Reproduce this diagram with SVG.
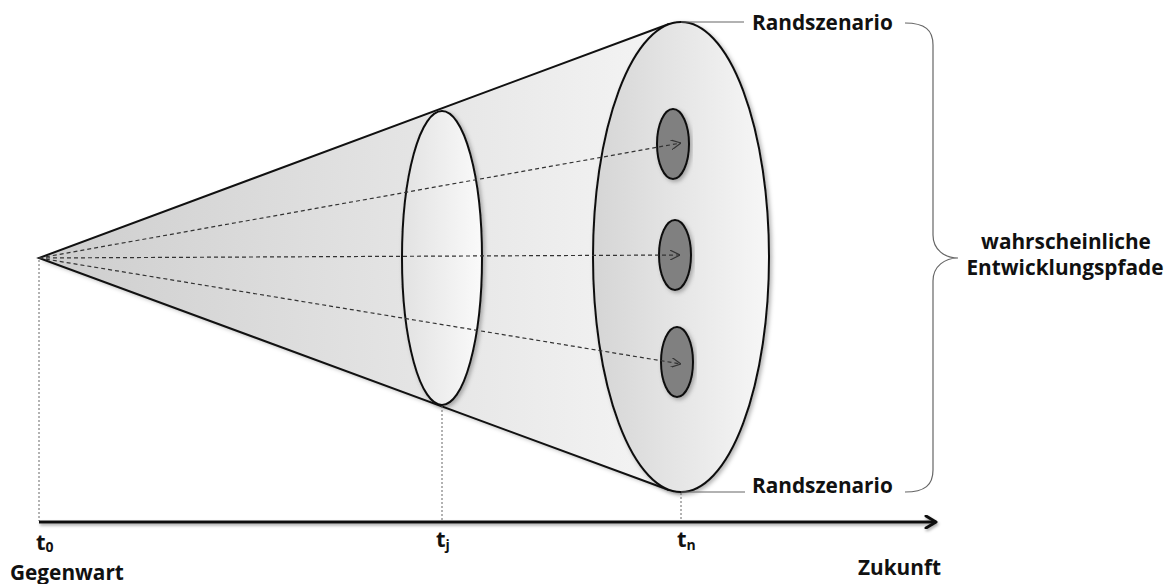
<svg xmlns="http://www.w3.org/2000/svg" width="1169" height="584" viewBox="0 0 1169 584">
<defs>
<style>
text{font-family:"Open Sans","Liberation Sans",sans-serif;font-weight:700;fill:#111}
.lbl{font-size:20.8px}
.t{font-size:22px}
.sub{font-size:14px}
.shape{stroke:#111;stroke-width:2}
.arrow{fill:none;stroke:#333;stroke-width:1.2;stroke-dasharray:4 3}
.drop{fill:none;stroke:#666;stroke-width:1;stroke-dasharray:2 2}
.lead{fill:none;stroke:#666;stroke-width:1.2}
</style>
<linearGradient id="gCone" gradientUnits="userSpaceOnUse" x1="39" y1="0" x2="681" y2="0">
<stop offset="0" stop-color="#cdcdcd"/><stop offset="1" stop-color="#f5f5f5"/>
</linearGradient>
<linearGradient id="gBig" x1="0" y1="0" x2="1" y2="0">
<stop offset="0" stop-color="#d5d5d5"/><stop offset="1" stop-color="#f7f7f7"/>
</linearGradient>
<linearGradient id="gMid" x1="0" y1="0" x2="1" y2="0">
<stop offset="0" stop-color="#e2e2e2"/><stop offset="1" stop-color="#fafafa"/>
</linearGradient>
<filter id="sh" x="-10%" y="-10%" width="120%" height="120%">
<feDropShadow dx="2" dy="2" stdDeviation="2" flood-opacity="0.3"/>
</filter>
<filter id="shAxis" filterUnits="userSpaceOnUse" x="20" y="500" width="940" height="45">
<feDropShadow dx="1" dy="2" stdDeviation="1.5" flood-opacity="0.35"/>
</filter>
<marker id="ah" viewBox="0 0 10 10" refX="10" refY="5" markerWidth="10" markerHeight="10" markerUnits="userSpaceOnUse" orient="auto">
<path d="M0 0 L10 5 L0 10" fill="none" stroke="#333" stroke-width="1.2"/>
</marker>
<marker id="axh" viewBox="0 0 14 14" refX="12" refY="7" markerWidth="14" markerHeight="14" markerUnits="userSpaceOnUse" orient="auto">
<path d="M2 1 L12 7 L2 13" fill="none" stroke="#111" stroke-width="3" stroke-linecap="round" stroke-linejoin="round"/>
</marker>
</defs>

<g id="cone">
<path d="M39 258 L669 24 L681 22 L681 492 L669 490 Z" fill="url(#gCone)" filter="url(#sh)"/>
<path d="M669 24 L39 258 L669 490" fill="none" stroke="#111" stroke-width="2" stroke-linejoin="miter"/>
</g>

<g id="ellipse-tj">
<ellipse cx="442" cy="258" rx="40" ry="147" fill="url(#gMid)" class="shape" filter="url(#sh)"/>
</g>

<g id="ellipse-tn">
<ellipse cx="681" cy="257" rx="88" ry="235" fill="url(#gBig)" class="shape" filter="url(#sh)"/>
</g>

<g id="path-1"><ellipse cx="673" cy="144" rx="16" ry="35" fill="#808080" class="shape" filter="url(#sh)"/></g>
<g id="path-2"><ellipse cx="675" cy="255" rx="16" ry="35" fill="#808080" class="shape" filter="url(#sh)"/></g>
<g id="path-3"><ellipse cx="677" cy="362" rx="16" ry="35" fill="#808080" class="shape" filter="url(#sh)"/></g>

<g id="connectors">
<line x1="39" y1="258" x2="681" y2="143" class="arrow" marker-end="url(#ah)"/>
<line x1="39" y1="258" x2="680" y2="255" class="arrow" marker-end="url(#ah)"/>
<line x1="39" y1="258" x2="681" y2="364" class="arrow" marker-end="url(#ah)"/>
<line x1="39" y1="260" x2="39" y2="521" class="drop"/>
<line x1="442" y1="406" x2="442" y2="521" class="drop"/>
<line x1="681" y1="493" x2="681" y2="521" class="drop"/>
<line x1="681" y1="22" x2="744" y2="22" class="lead"/>
<line x1="681" y1="492" x2="745" y2="492" class="lead"/>
<path d="M905 23 C925 23 933 30 933 45 L933 235 C933 250 945 258 958 258 C945 258 933 266 933 281 L933 470 C933 485 925 492 905 492" class="lead" stroke="#777" stroke-width="1.5"/>
</g>

<g id="axis" filter="url(#shAxis)">
<line x1="39" y1="522" x2="936" y2="522" stroke="#111" stroke-width="3" marker-end="url(#axh)"/>
</g>

<g id="labels">
<text class="lbl" x="752" y="30">Randszenario</text>
<text class="lbl" x="752" y="493">Randszenario</text>
<text class="lbl" x="1066" y="249" text-anchor="middle">wahrscheinliche</text>
<text class="lbl" x="1065" y="275" text-anchor="middle">Entwicklungspfade</text>
<text class="t" x="36" y="550">t<tspan class="sub" dy="2">0</tspan></text>
<text class="t" x="436" y="547">t<tspan class="sub" dy="3">j</tspan></text>
<text class="t" x="677" y="547">t<tspan class="sub" dy="3">n</tspan></text>
<text class="lbl" x="10" y="580">Gegenwart</text>
<text class="lbl" x="858" y="575">Zukunft</text>
</g>
</svg>
